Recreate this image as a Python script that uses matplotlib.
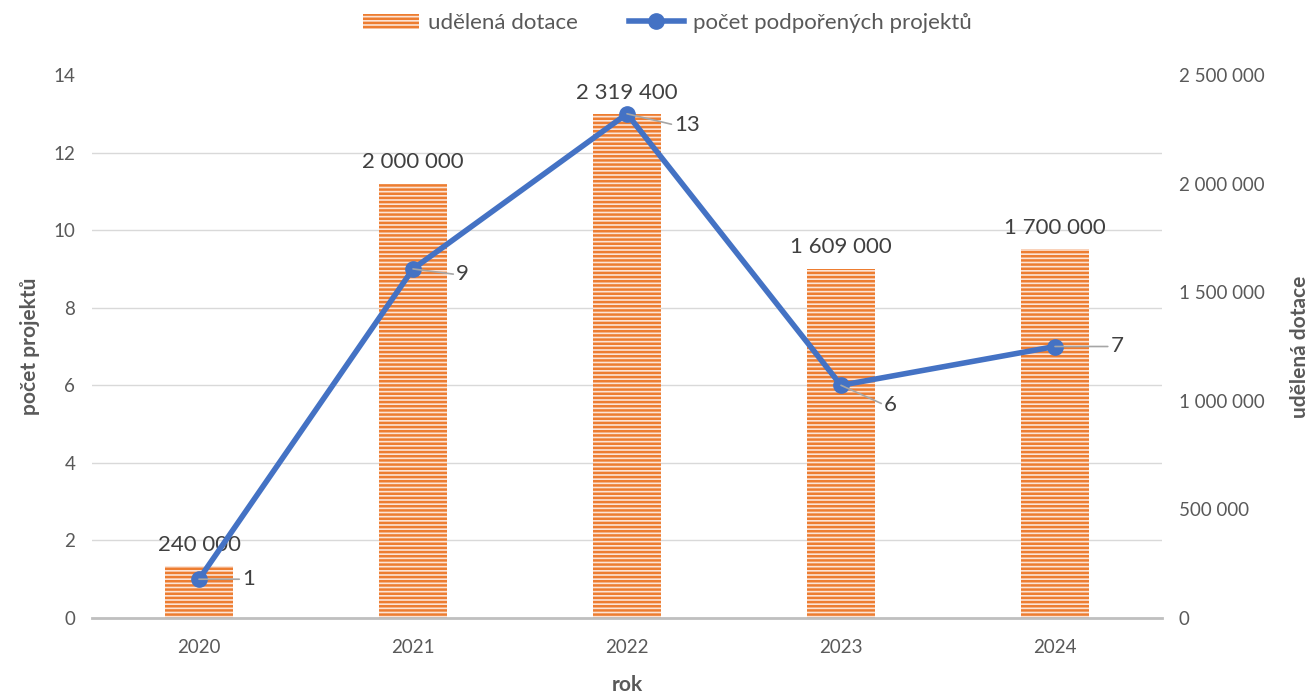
import matplotlib.pyplot as plt
from matplotlib.ticker import FuncFormatter

# data
years = ['2020', '2021', '2022', '2023', '2024']
dotace = [240000, 2000000, 2319400, 1609000, 1700000]
projekty = [1, 9, 13, 6, 7]

# label offsets for line labels (points)
lbl_off = [(31, 0), (31, -4), (34, -8), (31, -14), (40, 0)]

plt.rcParams['font.family'] = ['Lato', 'DejaVu Sans']
plt.rcParams['hatch.linewidth'] = 1.8
txt = '#595959'
orange = '#ED7D31'
blue = '#4472C4'

fig = plt.figure(figsize=(13.14, 6.94), dpi=100)
ax = fig.add_axes([92 / 1314, 1 - 618 / 694, 1070 / 1314, 543 / 694])
ax2 = ax.twinx()
ax.set_zorder(ax2.get_zorder() + 1)
ax.patch.set_visible(False)

x = list(range(len(years)))
ymax2 = 2500000
ax2.set_ylim(0, ymax2)
ax2.set_yticks(range(0, ymax2 + 1, 500000))
ax2.yaxis.set_major_formatter(FuncFormatter(lambda v, p: f'{int(v):,}'.replace(',', ' ')))
# gridlines follow the left axis ticks, drawn behind the bars
ax2.set_yticks([k * ymax2 / 7 for k in range(8)], minor=True)
ax2.grid(axis='y', which='minor', color='#D9D9D9', linewidth=1)
ax2.set_axisbelow(True)

bars = ax2.bar(x, dotace, width=0.32, color='#FCE4D6', edgecolor=orange,
               hatch='----', linewidth=0, label='udělená dotace')
for xi, v in zip(x, dotace):
    ax2.annotate(f'{v:,}'.replace(',', ' '), (xi, v), xytext=(0, 8),
                 textcoords='offset points', ha='center', va='bottom',
                 fontsize=16, color='#404040')

ax.plot(x, projekty, color=blue, linewidth=4, marker='o', markersize=11,
        label='počet podpořených projektů', zorder=5)
ax.set_ylim(0, 14)
ax.set_yticks(range(0, 15, 2))
ax.set_xlim(-0.5, len(years) - 0.5)
ax.set_xticks(x)
ax.set_xticklabels(years)
for xi, v, (dx, dy) in zip(x, projekty, lbl_off):
    ax.annotate(str(v), (xi, v), xytext=(dx, dy), textcoords='offset points',
                ha='left', va='center', fontsize=16, color='#404040',
                arrowprops=dict(arrowstyle='-', color='#A6A6A6', lw=1.2,
                                shrinkA=0, shrinkB=0, relpos=(0, 0.5)), zorder=6)

for a in (ax, ax2):
    for s in a.spines.values():
        s.set_visible(False)
    a.tick_params(which='both', length=0, labelsize=13.5, colors=txt, pad=12)
ax.spines['bottom'].set_visible(True)
ax.spines['bottom'].set_color('#BFBFBF')
ax.spines['bottom'].set_linewidth(2)
ax.tick_params(axis='x', pad=15)

ax.set_ylabel('počet projektů', fontsize=15, fontweight='bold', color=txt, labelpad=10)
ax2.set_ylabel('udělená dotace', fontsize=15, fontweight='bold', color=txt, labelpad=18)
ax.set_xlabel('rok', fontsize=15, fontweight='bold', color=txt, labelpad=14)

h1, l1 = ax2.get_legend_handles_labels()
h2, l2 = ax.get_legend_handles_labels()
fig.legend(h1 + h2, l1 + l2, loc='upper center', bbox_to_anchor=(0.508, 1.01),
           ncol=2, frameon=False, fontsize=16, labelcolor=txt,
           handlelength=2.5, columnspacing=2.3, handletextpad=0.4)

fig.savefig('out.png', dpi=100)
